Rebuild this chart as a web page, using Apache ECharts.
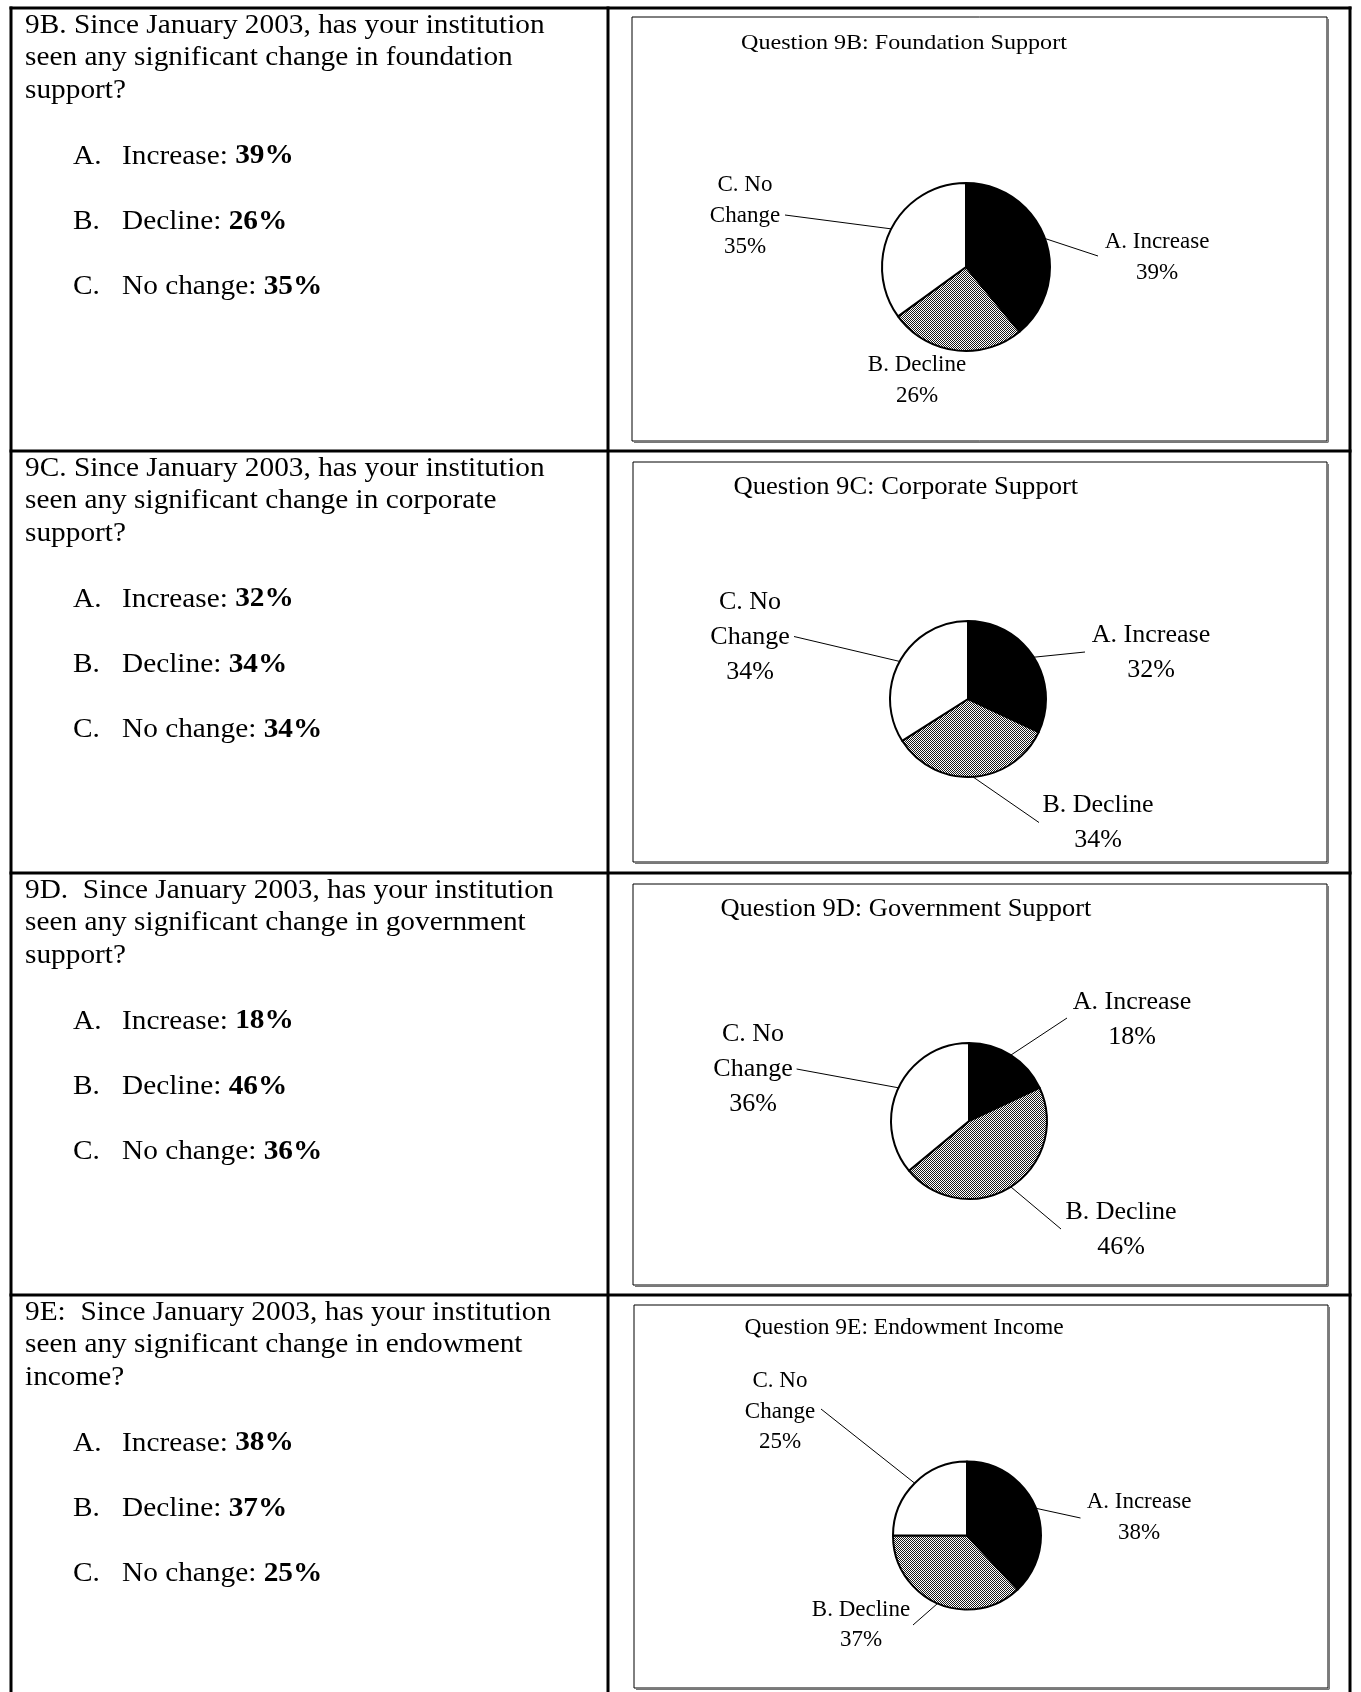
<!DOCTYPE html>
<html>
<head>
<meta charset="utf-8">
<script src="https://cdn.jsdelivr.net/npm/echarts@6/dist/echarts.min.js"></script>
<style>
  html, body { margin: 0; padding: 0; background: #fff; }
  #chart { width: 1361px; height: 1692px; }
</style>
</head>
<body>
<div id="chart"></div>
<script>
// ---- Survey data: questions 9B-9E, share of institutions per answer (%) ----
const questionIds = ['9B', '9C', '9D', '9E'];
const chartTitles = [
  'Question 9B: Foundation Support',
  'Question 9C: Corporate Support',
  'Question 9D: Government Support',
  'Question 9E: Endowment Income'
];
const questionLines = [
  ['9B. Since January 2003, has your institution', 'seen any significant change in foundation', 'support?'],
  ['9C. Since January 2003, has your institution', 'seen any significant change in corporate', 'support?'],
  ['9D.  Since January 2003, has your institution', 'seen any significant change in government', 'support?'],
  ['9E:  Since January 2003, has your institution', 'seen any significant change in endowment', 'income?']
];
const optionLetters = ['A.', 'B.', 'C.'];
const optionWords = ['Increase', 'Decline', 'No change'];
const sliceLabels = ['A. Increase', 'B. Decline', 'C. No\nChange'];
const increasePct = [39, 32, 18, 38];
const declinePct = [26, 34, 46, 37];
const noChangePct = [35, 34, 36, 25];

// ---- Page layout ----
const SERIF = '"Liberation Serif", "Times New Roman", Times, serif';
const rowLines = [8, 451, 873, 1295];
const panels = [
  { box: [632, 17, 1327, 441], center: [966, 267], radius: 84,
    title: { x: 741, base: 50.5, size: 21, sx: 1.147 },
    labelSize: 23, labelLh: 31,
    labels: [ { x: 1157, y: 257, end: [1098, 256] },
              { x: 917, y: 380, end: null },
              { x: 745, y: 216, end: [785, 215] } ] },
  { box: [633, 462, 1327, 862], center: [968, 699], radius: 78,
    title: { x: 733.5, base: 496, size: 25, sx: 1.063 },
    labelSize: 26, labelLh: 35,
    labels: [ { x: 1151, y: 653, end: [1085, 652] },
              { x: 1098, y: 822.5, end: [1039, 822.5] },
              { x: 750, y: 637, end: [794, 636.5] } ] },
  { box: [633, 884, 1327, 1285], center: [969, 1121], radius: 78,
    title: { x: 720.4, base: 917.5, size: 25, sx: 1.058 },
    labelSize: 26, labelLh: 35,
    labels: [ { x: 1132, y: 1019.5, end: [1067, 1018] },
              { x: 1121, y: 1229.5, end: [1061, 1229] },
              { x: 753, y: 1069.5, end: [796.6, 1069] } ] },
  { box: [634, 1305, 1328, 1688], center: [967, 1535.5], radius: 74,
    title: { x: 744.6, base: 1335.8, size: 22.5, sx: 1.044 },
    labelSize: 23, labelLh: 30.5,
    labels: [ { x: 1139, y: 1517.5, end: [1080.5, 1518] },
              { x: 861, y: 1625, end: [913, 1625] },
              { x: 780, y: 1411.5, end: [821, 1409] } ] }
];

// Fine black/white checker used for the "Decline" slices
const hatch = document.createElement('canvas');
hatch.width = 2; hatch.height = 2;
(function () {
  const c = hatch.getContext('2d');
  c.fillStyle = '#ffffff'; c.fillRect(0, 0, 2, 2);
  c.fillStyle = '#1a1a1a'; c.fillRect(0, 0, 1, 1); c.fillRect(1, 1, 1, 1);
})();
const hatchFill = { image: hatch, repeat: 'repeat' };

// Text placed by its baseline (Liberation Serif: middle sits ~0.3375em above baseline)
function textAt(x, baseline, text, size, sx, rich) {
  const el = {
    type: 'text', x: x, y: baseline - 0.3375 * size, scaleX: sx, silent: true,
    style: { text: text, font: size + 'px ' + SERIF, fill: '#000',
             textAlign: 'left', textVerticalAlign: 'middle' }
  };
  if (rich) el.style.rich = rich;
  return el;
}
function line(x1, y1, x2, y2, w, color) {
  return { type: 'line', silent: true,
           shape: { x1: x1, y1: y1, x2: x2, y2: y2 },
           style: { stroke: color || '#000', lineWidth: w } };
}

const graphics = [];
// table frame
graphics.push(line(9.5, 8, 1351.5, 8, 3));
graphics.push(line(11, 6.5, 11, 1692, 3));
graphics.push(line(1350, 6.5, 1350, 1692, 3));
graphics.push(line(608, 6.5, 608, 1692, 3));
rowLines.slice(1).forEach(y => graphics.push(line(9.5, y, 1351.5, y, 3)));

const bodySize = 26.67, bodyScale = 1.1, bodyLh = 32.3;
const richBody = {
  r: { fontFamily: SERIF, fontSize: bodySize },
  b: { fontFamily: SERIF, fontSize: bodySize, fontWeight: 'bold' }
};
const answers = [increasePct, declinePct, noChangePct];

questionIds.forEach((q, i) => {
  const top = rowLines[i];
  // question wording
  questionLines[i].forEach((t, k) => {
    graphics.push(textAt(25, top + 27 + k * bodyLh, t, bodySize, bodyScale));
  });
  // answer list with bold percentages
  optionWords.forEach((w, k) => {
    const base = top + 157.5 + k * 65.4;
    graphics.push(textAt(73, base, optionLetters[k], bodySize, bodyScale));
    graphics.push(textAt(122, base, '{r|' + w + ': }{b|' + answers[k][i] + '%}', bodySize, bodyScale, richBody));
  });
  // chart frame with a soft drop edge
  const p = panels[i], b = p.box;
  graphics.push({ type: 'rect', silent: true,
    shape: { x: b[0], y: b[1], width: b[2] - b[0], height: b[3] - b[1] },
    style: { fill: null, stroke: '#000', lineWidth: 1 } });
  graphics.push(line(b[0] + 2, b[3] + 1.2, b[2] + 1.2, b[3] + 1.2, 1.5, '#777'));
  graphics.push(line(b[2] + 1.2, b[1] + 2, b[2] + 1.2, b[3] + 1.2, 1.5, '#777'));
  // chart title
  graphics.push(textAt(p.title.x, p.title.base, chartTitles[i], p.title.size, p.title.sx));
});

const series = panels.map((p, i) => ({
  type: 'pie',
  center: p.center,
  radius: p.radius,
  startAngle: 90,
  clockwise: true,
  avoidLabelOverlap: false,
  silent: true,
  animation: false,
  itemStyle: { borderColor: '#000', borderWidth: 2 },
  label: {
    show: true, position: 'outside', formatter: '{b}\n{c}%',
    fontFamily: SERIF, fontSize: p.labelSize, lineHeight: p.labelLh,
    color: '#000', align: 'center'
  },
  labelLine: { show: true, length: 8, length2: 8, smooth: false,
               lineStyle: { color: '#000', width: 1 } },
  labelLayout: function (params) {
    const L = p.labels[params.dataIndex];
    const out = { x: L.x, y: L.y, align: 'center', verticalAlign: 'middle' };
    if (L.end && params.labelLinePoints && params.labelLinePoints.length) {
      out.labelLinePoints = [params.labelLinePoints[0].slice(), L.end.slice()];
    }
    return out;
  },
  data: [
    { name: sliceLabels[0], value: increasePct[i], itemStyle: { color: '#000' } },
    { name: sliceLabels[1], value: declinePct[i], itemStyle: { color: hatchFill } },
    { name: sliceLabels[2], value: noChangePct[i], itemStyle: { color: '#fff' } }
  ].map((d, k) => (p.labels[k].end ? d : Object.assign({}, d, { labelLine: { show: false } })))
}));

const chart = echarts.init(document.getElementById('chart'), null, { renderer: 'canvas' });
chart.setOption({
  backgroundColor: '#fff',
  animation: false,
  graphic: { elements: graphics },
  series: series
});
</script>
</body>
</html>
